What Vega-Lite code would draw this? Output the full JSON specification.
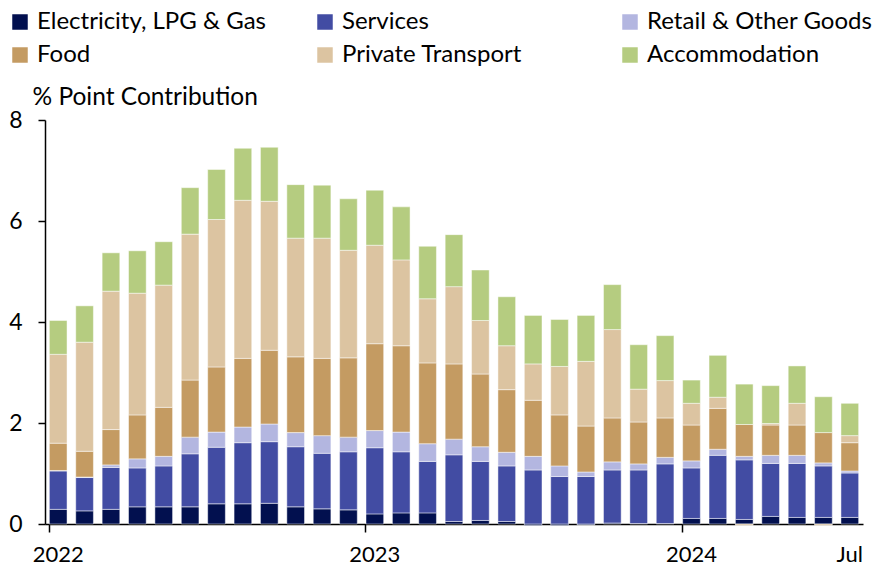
{
  "$schema": "https://vega.github.io/schema/vega-lite/v6.json",
  "width": 818,
  "height": 404,
  "autosize": {"type": "none"},
  "padding": {"left": 45, "top": 120, "right": 14, "bottom": 50},
  "config": {
    "font": "Lato",
    "view": {"stroke": null},
    "axis": {"labelFont": "Lato", "titleFont": "Lato", "labelColor": "#000000", "titleColor": "#000000", "domainColor": "#000000", "tickColor": "#000000"},
    "legend": {"labelFont": "Lato"}
  },
  "datasets": {
    "ord": [
      {"cat": "Electricity, LPG & Gas", "k": 1},
      {"cat": "Services", "k": 2},
      {"cat": "Retail & Other Goods", "k": 3},
      {"cat": "Food", "k": 4},
      {"cat": "Private Transport", "k": 5},
      {"cat": "Accommodation", "k": 6}
    ]
  },
  "data": {
    "values": [
      {"m": "2022-01", "Electricity, LPG & Gas": 0.29, "Services": 0.76, "Retail & Other Goods": 0.01, "Food": 0.54, "Private Transport": 1.76, "Accommodation": 0.67},
      {"m": "2022-02", "Electricity, LPG & Gas": 0.26, "Services": 0.66, "Retail & Other Goods": 0.01, "Food": 0.51, "Private Transport": 2.16, "Accommodation": 0.72},
      {"m": "2022-03", "Electricity, LPG & Gas": 0.29, "Services": 0.83, "Retail & Other Goods": 0.05, "Food": 0.70, "Private Transport": 2.74, "Accommodation": 0.76},
      {"m": "2022-04", "Electricity, LPG & Gas": 0.34, "Services": 0.77, "Retail & Other Goods": 0.18, "Food": 0.87, "Private Transport": 2.41, "Accommodation": 0.84},
      {"m": "2022-05", "Electricity, LPG & Gas": 0.34, "Services": 0.81, "Retail & Other Goods": 0.19, "Food": 0.97, "Private Transport": 2.42, "Accommodation": 0.86},
      {"m": "2022-06", "Electricity, LPG & Gas": 0.34, "Services": 1.05, "Retail & Other Goods": 0.33, "Food": 1.13, "Private Transport": 2.89, "Accommodation": 0.92},
      {"m": "2022-07", "Electricity, LPG & Gas": 0.40, "Services": 1.12, "Retail & Other Goods": 0.30, "Food": 1.29, "Private Transport": 2.92, "Accommodation": 0.99},
      {"m": "2022-08", "Electricity, LPG & Gas": 0.40, "Services": 1.21, "Retail & Other Goods": 0.31, "Food": 1.36, "Private Transport": 3.13, "Accommodation": 1.03},
      {"m": "2022-09", "Electricity, LPG & Gas": 0.41, "Services": 1.22, "Retail & Other Goods": 0.35, "Food": 1.46, "Private Transport": 2.95, "Accommodation": 1.07},
      {"m": "2022-10", "Electricity, LPG & Gas": 0.34, "Services": 1.19, "Retail & Other Goods": 0.28, "Food": 1.50, "Private Transport": 2.35, "Accommodation": 1.06},
      {"m": "2022-11", "Electricity, LPG & Gas": 0.30, "Services": 1.10, "Retail & Other Goods": 0.35, "Food": 1.53, "Private Transport": 2.38, "Accommodation": 1.05},
      {"m": "2022-12", "Electricity, LPG & Gas": 0.28, "Services": 1.15, "Retail & Other Goods": 0.29, "Food": 1.57, "Private Transport": 2.13, "Accommodation": 1.02},
      {"m": "2023-01", "Electricity, LPG & Gas": 0.20, "Services": 1.31, "Retail & Other Goods": 0.34, "Food": 1.72, "Private Transport": 1.95, "Accommodation": 1.09},
      {"m": "2023-02", "Electricity, LPG & Gas": 0.22, "Services": 1.21, "Retail & Other Goods": 0.39, "Food": 1.71, "Private Transport": 1.70, "Accommodation": 1.05},
      {"m": "2023-03", "Electricity, LPG & Gas": 0.22, "Services": 1.02, "Retail & Other Goods": 0.35, "Food": 1.60, "Private Transport": 1.27, "Accommodation": 1.04},
      {"m": "2023-04", "Electricity, LPG & Gas": 0.05, "Services": 1.32, "Retail & Other Goods": 0.31, "Food": 1.49, "Private Transport": 1.53, "Accommodation": 1.03},
      {"m": "2023-05", "Electricity, LPG & Gas": 0.07, "Services": 1.17, "Retail & Other Goods": 0.29, "Food": 1.44, "Private Transport": 1.06, "Accommodation": 1.00},
      {"m": "2023-06", "Electricity, LPG & Gas": 0.05, "Services": 1.10, "Retail & Other Goods": 0.27, "Food": 1.24, "Private Transport": 0.87, "Accommodation": 0.97},
      {"m": "2023-07", "Electricity, LPG & Gas": -0.03, "Services": 1.07, "Retail & Other Goods": 0.27, "Food": 1.11, "Private Transport": 0.72, "Accommodation": 0.96},
      {"m": "2023-08", "Electricity, LPG & Gas": -0.03, "Services": 0.94, "Retail & Other Goods": 0.21, "Food": 1.01, "Private Transport": 0.96, "Accommodation": 0.93},
      {"m": "2023-09", "Electricity, LPG & Gas": -0.02, "Services": 0.94, "Retail & Other Goods": 0.09, "Food": 0.91, "Private Transport": 1.28, "Accommodation": 0.91},
      {"m": "2023-10", "Electricity, LPG & Gas": 0.02, "Services": 1.05, "Retail & Other Goods": 0.16, "Food": 0.87, "Private Transport": 1.75, "Accommodation": 0.89},
      {"m": "2023-11", "Electricity, LPG & Gas": 0.01, "Services": 1.06, "Retail & Other Goods": 0.12, "Food": 0.83, "Private Transport": 0.65, "Accommodation": 0.88},
      {"m": "2023-12", "Electricity, LPG & Gas": 0.01, "Services": 1.18, "Retail & Other Goods": 0.13, "Food": 0.78, "Private Transport": 0.74, "Accommodation": 0.89},
      {"m": "2024-01", "Electricity, LPG & Gas": 0.11, "Services": 1.00, "Retail & Other Goods": 0.14, "Food": 0.71, "Private Transport": 0.43, "Accommodation": 0.46},
      {"m": "2024-02", "Electricity, LPG & Gas": 0.11, "Services": 1.25, "Retail & Other Goods": 0.12, "Food": 0.81, "Private Transport": 0.22, "Accommodation": 0.83},
      {"m": "2024-03", "Electricity, LPG & Gas": 0.09, "Services": 1.18, "Retail & Other Goods": 0.07, "Food": 0.63, "Private Transport": -0.03, "Accommodation": 0.80},
      {"m": "2024-04", "Electricity, LPG & Gas": 0.15, "Services": 1.05, "Retail & Other Goods": 0.16, "Food": 0.60, "Private Transport": 0.03, "Accommodation": 0.75},
      {"m": "2024-05", "Electricity, LPG & Gas": 0.13, "Services": 1.07, "Retail & Other Goods": 0.16, "Food": 0.60, "Private Transport": 0.43, "Accommodation": 0.74},
      {"m": "2024-06", "Electricity, LPG & Gas": 0.13, "Services": 1.02, "Retail & Other Goods": 0.06, "Food": 0.60, "Private Transport": -0.03, "Accommodation": 0.71},
      {"m": "2024-07", "Electricity, LPG & Gas": 0.13, "Services": 0.88, "Retail & Other Goods": 0.04, "Food": 0.56, "Private Transport": 0.14, "Accommodation": 0.64}
    ]
  },
  "transform": [
    {"fold": ["Electricity, LPG & Gas", "Services", "Retail & Other Goods", "Food", "Private Transport", "Accommodation"], "as": ["cat", "val"]},
    {"lookup": "cat", "from": {"data": {"name": "ord"}, "key": "cat", "fields": ["k"]}}
  ],
  "mark": {"type": "bar", "stroke": "#ffffff", "strokeWidth": 0.6, "strokeOpacity": 0.8},
  "encoding": {
    "x": {
      "field": "m",
      "type": "ordinal",
      "scale": {"paddingInner": 0.33, "paddingOuter": 0.165},
      "axis": {
        "title": null,
        "values": ["2022-01", "2023-01", "2024-01", "2024-07"],
        "labelExpr": "datum.value == '2024-07' ? 'Jul' : slice(datum.value, 0, 4)",
        "bandPosition": 0,
        "labelAngle": 0,
        "labelAlign": "center",
        "labelFontSize": 22,
        "labelPadding": 12,
        "tickSize": 8,
        "tickWidth": 1.5,
        "domainWidth": 1.5,
        "tickOpacity": {"condition": {"test": "datum.value == '2024-07'", "value": 0}, "value": 1}
      }
    },
    "y": {
      "field": "val",
      "type": "quantitative",
      "stack": "zero",
      "scale": {"domain": [0, 8], "nice": false},
      "axis": {
        "title": "% Point Contribution",
        "titleAngle": 0,
        "titleAlign": "left",
        "titleBaseline": "middle",
        "titleX": -13,
        "titleY": -23,
        "titleFontSize": 24.5,
        "titleFontWeight": "normal",
        "values": [0, 2, 4, 6, 8],
        "labelFontSize": 23,
        "labelPadding": 16,
        "tickSize": 7,
        "tickWidth": 1.5,
        "domainWidth": 1.5,
        "grid": false
      }
    },
    "order": {"field": "k", "type": "quantitative", "sort": "ascending"},
    "color": {
      "field": "cat",
      "type": "nominal",
      "scale": {
        "domain": ["Electricity, LPG & Gas", "Services", "Retail & Other Goods", "Food", "Private Transport", "Accommodation"],
        "range": ["#02104F", "#424CA3", "#B3B6E0", "#C49B62", "#DCC4A1", "#B5CC80"]
      },
      "legend": {
        "title": null,
        "orient": "none",
        "legendX": -37,
        "legendY": -110,
        "direction": "horizontal",
        "columns": 3,
        "gridAlign": "all",
        "columnPadding": 47,
        "rowPadding": 9,
        "symbolType": "square",
        "symbolSize": 240,
        "symbolStrokeWidth": 0,
        "labelFontSize": 24,
        "labelOffset": 5,
        "labelLimit": 400,
        "labelColor": "#000000"
      }
    }
  }
}
